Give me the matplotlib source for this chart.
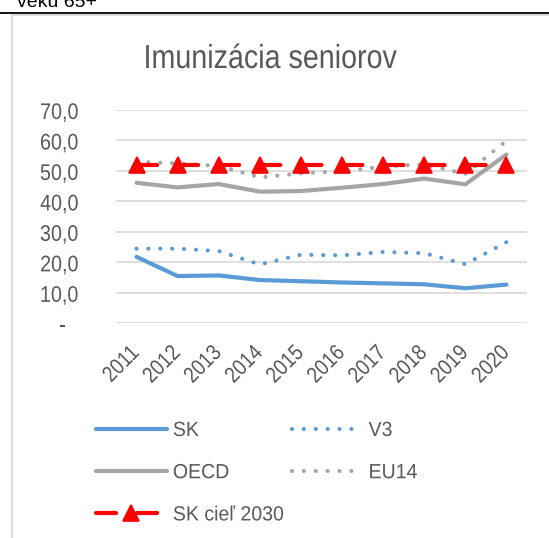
import matplotlib
matplotlib.use("Agg")
import matplotlib.pyplot as plt
from matplotlib.lines import Line2D
from matplotlib.patheffects import AbstractPathEffect
from matplotlib.transforms import Affine2D

years = ["2011", "2012", "2013", "2014", "2015", "2016", "2017", "2018", "2019", "2020"]
sk = [21.8, 15.5, 15.7, 14.2, 13.8, 13.4, 13.1, 12.8, 11.5, 12.7]
v3 = [24.5, 24.5, 23.7, 19.3, 22.5, 22.3, 23.4, 23.0, 19.4, 26.6]
oecd = [46.1, 44.6, 45.7, 43.2, 43.4, 44.5, 45.7, 47.5, 45.6, 55.4]
eu14 = [53.0, 52.5, 51.6, 47.9, 49.2, 49.9, 51.4, 52.2, 49.0, 59.9]
sk_ciel = [52.0, 52.0, 52.0, 52.0, 52.0, 52.0, 52.0, 52.0, 52.0, 52.0]
yticks = [0, 10, 20, 30, 40, 50, 60, 70]
ytick_labels = ["-  ", "10,0", "20,0", "30,0", "40,0", "50,0", "60,0", "70,0"]
title = "Imunizácia seniorov"
top_text = "veku 65+"

plt.rcParams["font.family"] = ["Liberation Sans", "DejaVu Sans"]


class Condense(AbstractPathEffect):
    """Horizontally condense glyphs (emulates a narrow typeface)."""

    def __init__(self, sx, anchor="left"):
        super().__init__()
        self.sx = sx
        self.anchor = anchor

    def draw_path(self, renderer, gc, tpath, affine, rgbFace=None):
        ext = tpath.get_extents()
        if self.anchor == "right":
            cx = ext.x1
        elif self.anchor == "center":
            cx = (ext.x0 + ext.x1) / 2
        else:
            cx = 0
        t = Affine2D().translate(-cx, 0).scale(self.sx, 1).translate(cx, 0) + affine
        renderer.draw_path(gc, tpath, t, rgbFace)


W, H = 549, 538
fig = plt.figure(figsize=(W / 100, H / 100), dpi=100)

ax_l, ax_r, ax_t, ax_b = 116, 527, 110, 323.3
ax = fig.add_axes([ax_l / W, 1 - ax_b / H, (ax_r - ax_l) / W, (ax_b - ax_t) / H])

x = list(range(len(years)))
txt = "#595959"
blue = "#5B9BD5"
gray = "#A5A5A5"
red = "#FF0000"
lw = 3.0

ax.plot(x, sk, color=blue, lw=lw, solid_capstyle="round", solid_joinstyle="round", label="SK", zorder=3)
ax.plot(x, v3, color=blue, lw=lw, ls=(0, (0.001, 2.85)), dash_capstyle="round", label="V3", zorder=3)
ax.plot(x, oecd, color=gray, lw=lw, solid_capstyle="round", solid_joinstyle="round", label="OECD", zorder=3)
ax.plot(x, eu14, color=gray, lw=lw, ls=(0, (0.001, 2.85)), dash_capstyle="round", label="EU14", zorder=3)
ax.plot(x, sk_ciel, color=red, lw=lw, ls=(0, (4.8, 5.06)), dash_capstyle="round",
        marker="^", markersize=11.5, markeredgecolor=red, markeredgewidth=1.2,
        label="SK cieľ 2030", zorder=4)

ax.set_xlim(-0.5, len(years) - 0.5)
ax.set_ylim(0, 70)
ax.set_yticks(yticks)
ax.set_yticklabels(ytick_labels)
ax.set_xticks(x)
ax.set_xticklabels(years, rotation=45, ha="right", va="center", rotation_mode="anchor")
for s in ax.spines.values():
    s.set_visible(False)
ax.grid(axis="y", color="#D9D9D9", lw=1.2)
ax.set_axisbelow(True)
ax.tick_params(axis="both", length=0, colors=txt)
ax.tick_params(axis="y", labelsize=16.3, pad=27)
ax.tick_params(axis="x", labelsize=16, pad=19)
for t in ax.get_yticklabels():
    t.set_path_effects([Condense(0.87, "right")])
for t in ax.get_xticklabels():
    t.set_path_effects([Condense(0.86, "right")])

tt = fig.text(270 / W, 1 - 68 / H, title, ha="center", va="baseline", fontsize=24, color=txt)
tt.set_path_effects([Condense(0.86, "center")])
fig.text(17 / W, 1 - 7 / H, top_text, ha="left", va="baseline", fontsize=14, color="black")

# frame decorations
fig.add_artist(Line2D([0, 1], [1 - 12.8 / H, 1 - 12.8 / H], color="black", lw=1.3))
fig.add_artist(Line2D([11.8 / W, 1], [1 - 14.8 / H, 1 - 14.8 / H], color="#D9D9D9", lw=1.3))
fig.add_artist(Line2D([11.8 / W, 11.8 / W], [0, 1 - 14.8 / H], color="#D9D9D9", lw=1.3))

h, l = ax.get_legend_handles_labels()
order = [0, 2, 4, 1, 3]
leg = fig.legend([h[i] for i in order], [l[i] for i in order], ncol=2,
                 loc="upper left", bbox_to_anchor=(96 / W, 1 - 421 / H),
                 frameon=False, fontsize=14.8, handlelength=3.45, handletextpad=0.29,
                 columnspacing=0.1, labelspacing=1.13, borderpad=0, borderaxespad=0)
for t in leg.get_texts():
    t.set_color(txt)
    t.set_path_effects([Condense(0.95, "left")])

fig.savefig("out.png", dpi=100)
